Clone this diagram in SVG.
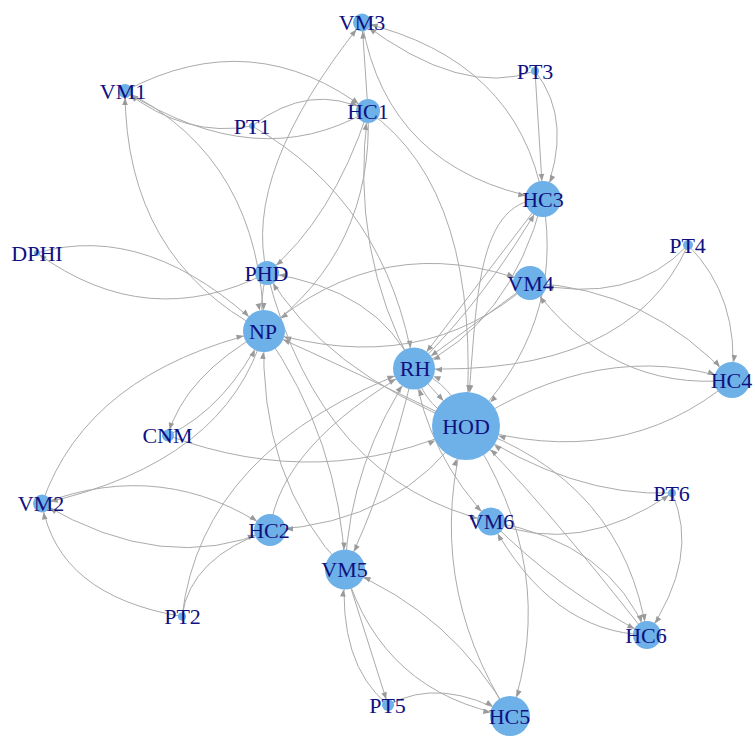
<svg xmlns="http://www.w3.org/2000/svg" width="755" height="736" viewBox="0 0 755 736">
<style>
  .e path { fill: none; stroke: #ababab; stroke-width: 1; }
  .n circle { fill: #6db1e8; }
  .n text { font-family: "Liberation Serif", "Times New Roman", serif; font-size: 22px; fill: #10107f; text-anchor: middle; }
  .ah { fill: #9a9a9a; }
</style>
<defs>
  <!-- arrowheads: tip pulled back from the node centre by the target radius -->
  <marker id="a3" markerUnits="userSpaceOnUse" markerWidth="10" markerHeight="10" refX="3" refY="0" orient="auto" overflow="visible"><path class="ah" d="M0,0 L-7,-2.8 L-7,2.8 Z"/></marker>
  <marker id="a4" markerUnits="userSpaceOnUse" markerWidth="10" markerHeight="10" refX="4" refY="0" orient="auto" overflow="visible"><path class="ah" d="M0,0 L-7,-2.8 L-7,2.8 Z"/></marker>
  <marker id="a6" markerUnits="userSpaceOnUse" markerWidth="10" markerHeight="10" refX="6" refY="0" orient="auto" overflow="visible"><path class="ah" d="M0,0 L-7,-2.8 L-7,2.8 Z"/></marker>
  <marker id="a7" markerUnits="userSpaceOnUse" markerWidth="10" markerHeight="10" refX="7" refY="0" orient="auto" overflow="visible"><path class="ah" d="M0,0 L-7,-2.8 L-7,2.8 Z"/></marker>
  <marker id="a9" markerUnits="userSpaceOnUse" markerWidth="10" markerHeight="10" refX="9" refY="0" orient="auto" overflow="visible"><path class="ah" d="M0,0 L-7,-2.8 L-7,2.8 Z"/></marker>
  <marker id="a12" markerUnits="userSpaceOnUse" markerWidth="10" markerHeight="10" refX="12" refY="0" orient="auto" overflow="visible"><path class="ah" d="M0,0 L-7,-2.8 L-7,2.8 Z"/></marker>
  <marker id="a14" markerUnits="userSpaceOnUse" markerWidth="10" markerHeight="10" refX="14" refY="0" orient="auto" overflow="visible"><path class="ah" d="M0,0 L-7,-2.8 L-7,2.8 Z"/></marker>
  <marker id="a16" markerUnits="userSpaceOnUse" markerWidth="10" markerHeight="10" refX="16" refY="0" orient="auto" overflow="visible"><path class="ah" d="M0,0 L-7,-2.8 L-7,2.8 Z"/></marker>
  <marker id="a17" markerUnits="userSpaceOnUse" markerWidth="10" markerHeight="10" refX="17" refY="0" orient="auto" overflow="visible"><path class="ah" d="M0,0 L-7,-2.8 L-7,2.8 Z"/></marker>
  <marker id="a18" markerUnits="userSpaceOnUse" markerWidth="10" markerHeight="10" refX="18" refY="0" orient="auto" overflow="visible"><path class="ah" d="M0,0 L-7,-2.8 L-7,2.8 Z"/></marker>
  <marker id="a20" markerUnits="userSpaceOnUse" markerWidth="10" markerHeight="10" refX="20" refY="0" orient="auto" overflow="visible"><path class="ah" d="M0,0 L-7,-2.8 L-7,2.8 Z"/></marker>
  <marker id="a21" markerUnits="userSpaceOnUse" markerWidth="10" markerHeight="10" refX="21" refY="0" orient="auto" overflow="visible"><path class="ah" d="M0,0 L-7,-2.8 L-7,2.8 Z"/></marker>
  <marker id="a34" markerUnits="userSpaceOnUse" markerWidth="10" markerHeight="10" refX="34" refY="0" orient="auto" overflow="visible"><path class="ah" d="M0,0 L-7,-2.8 L-7,2.8 Z"/></marker>
</defs>
<rect width="755" height="736" fill="#ffffff"/>

<!-- directed edges, drawn centre to centre underneath the nodes -->
<g id="edges" class="e">
  <path d="M125,91 Q253.5,23 368,111" marker-end="url(#a12)"/>
  <path d="M368,111 Q257.5,175 125,91" marker-end="url(#a7)"/>
  <path d="M252,126 Q185.5,138.5 125,91" marker-end="url(#a7)"/>
  <path d="M252,126 Q310,81.5 368,111" marker-end="url(#a12)"/>
  <path d="M252,126 Q387,202.5 414,368.5" marker-end="url(#a21)"/>
  <path d="M368,111 Q365,66 362,22.5" marker-end="url(#a9)"/>
  <path d="M267,273 Q241.5,172.5 362,22.5" marker-end="url(#a9)"/>
  <path d="M535,71 Q461.5,98 362,22.5" marker-end="url(#a9)"/>
  <path d="M362,22.5 Q387.5,170 543,199" marker-end="url(#a18)"/>
  <path d="M543,199 Q517.5,60 362,22.5" marker-end="url(#a9)"/>
  <path d="M535,71 Q539,135 543,199" marker-end="url(#a18)"/>
  <path d="M535,71 Q575,122 543,199" marker-end="url(#a18)"/>
  <path d="M368,111 Q332.5,218.5 267,273" marker-end="url(#a12)"/>
  <path d="M368,111 Q374,249.5 264,331" marker-end="url(#a21)"/>
  <path d="M368,111 Q483,192 466,426" marker-end="url(#a34)"/>
  <path d="M414,368.5 Q349,251 368,111" marker-end="url(#a12)"/>
  <path d="M37,253 Q149,220.5 264,331" marker-end="url(#a21)"/>
  <path d="M267,273 Q147.5,333.5 37,253" marker-end="url(#a3)"/>
  <path d="M264,331 Q125.5,258.5 125,91" marker-end="url(#a7)"/>
  <path d="M125,91 Q261.5,158.5 264,331" marker-end="url(#a21)"/>
  <path d="M267,273 Q258,302 264,331" marker-end="url(#a21)"/>
  <path d="M264,331 Q383,227 530,283" marker-end="url(#a17)"/>
  <path d="M530,283 Q423,379 264,331" marker-end="url(#a21)"/>
  <path d="M264,331 Q184,376.5 168,435.5" marker-end="url(#a6)"/>
  <path d="M168,435.5 Q228,406.5 264,331" marker-end="url(#a21)"/>
  <path d="M42,503.5 Q87,372.5 264,331" marker-end="url(#a21)"/>
  <path d="M264,331 Q227,462.5 42,503.5" marker-end="url(#a9)"/>
  <path d="M168,435.5 Q323,493 466,426" marker-end="url(#a34)"/>
  <path d="M466,426 Q355,371.5 264,331" marker-end="url(#a21)"/>
  <path d="M466,426 Q323.5,370.5 267,273" marker-end="url(#a12)"/>
  <path d="M414,368.5 Q379.5,289.5 267,273" marker-end="url(#a12)"/>
  <path d="M543,199 Q478.5,283.5 414,368.5" marker-end="url(#a21)"/>
  <path d="M414,368.5 Q488,296 543,199" marker-end="url(#a18)"/>
  <path d="M543,199 Q510,325 414,368.5" marker-end="url(#a21)"/>
  <path d="M530,283 Q472,325.75 414,368.5" marker-end="url(#a21)"/>
  <path d="M688,245 Q629,377.5 414,368.5" marker-end="url(#a21)"/>
  <path d="M543,199 Q565.5,328 466,426" marker-end="url(#a34)"/>
  <path d="M543,199 C470,200 478,320 466,426" marker-end="url(#a34)"/>
  <path d="M688,245 Q631,306 530,283" marker-end="url(#a17)"/>
  <path d="M688,245 Q740,297.5 732,380" marker-end="url(#a18)"/>
  <path d="M530,283 Q649,288.5 732,380" marker-end="url(#a18)"/>
  <path d="M732,380 Q609,392.5 530,283" marker-end="url(#a17)"/>
  <path d="M732,380 Q621,473 466,426" marker-end="url(#a34)"/>
  <path d="M466,426 Q601,337 732,380" marker-end="url(#a18)"/>
  <path d="M672,493 Q700.5,557 647,635" marker-end="url(#a14)"/>
  <path d="M672,493 Q571,497 466,426" marker-end="url(#a34)"/>
  <path d="M491,521.5 Q578.5,557.5 672,493" marker-end="url(#a4)"/>
  <path d="M491,521.5 Q611,542.5 647,635" marker-end="url(#a14)"/>
  <path d="M491,521.5 Q561,592 647,635" marker-end="url(#a14)"/>
  <path d="M647,635 Q551,632.5 491,521.5" marker-end="url(#a14)"/>
  <path d="M466,426 Q623.5,480 647,635" marker-end="url(#a14)"/>
  <path d="M466,426 Q562,569 510,716" marker-end="url(#a20)"/>
  <path d="M510,716 Q422,579 466,426" marker-end="url(#a34)"/>
  <path d="M647,635 Q533.5,490 466,426" marker-end="url(#a34)"/>
  <path d="M414,368.5 Q427.5,455.5 491,521.5" marker-end="url(#a14)"/>
  <path d="M267,273 Q321,483 491,521.5" marker-end="url(#a14)"/>
  <path d="M42,503.5 Q164,457.5 270,530" marker-end="url(#a16)"/>
  <path d="M270,530 Q164,575.5 42,503.5" marker-end="url(#a9)"/>
  <path d="M182,616.5 Q58,595.5 42,503.5" marker-end="url(#a9)"/>
  <path d="M182,616.5 Q190,557 270,530" marker-end="url(#a16)"/>
  <path d="M182,616.5 Q202,447.5 414,368.5" marker-end="url(#a21)"/>
  <path d="M270,530 Q280,445 414,368.5" marker-end="url(#a21)"/>
  <path d="M466,426 Q402,522.5 270,530" marker-end="url(#a16)"/>
  <path d="M345,569.5 Q258,480 264,331" marker-end="url(#a21)"/>
  <path d="M264,331 Q340,440 345,569.5" marker-end="url(#a20)"/>
  <path d="M345,569.5 Q350,460 414,368.5" marker-end="url(#a21)"/>
  <path d="M414,368.5 Q385,490 345,569.5" marker-end="url(#a20)"/>
  <path d="M510,716 Q452.5,613.5 345,569.5" marker-end="url(#a20)"/>
  <path d="M345,569.5 Q382.5,693.5 510,716" marker-end="url(#a20)"/>
  <path d="M388,705 Q337.5,663.5 345,569.5" marker-end="url(#a20)"/>
  <path d="M345,569.5 Q366.5,637 388,705" marker-end="url(#a6)"/>
  <path d="M388,705 Q441,676 510,716" marker-end="url(#a20)"/>
  <path d="M466,426 Q455,385 414,368.5" marker-end="url(#a21)"/>
  <path d="M466,426 Q425,410 414,368.5" marker-end="url(#a21)"/>
  <path d="M414,368.5 Q440,397 466,426" marker-end="url(#a34)"/>
</g>

<!-- nodes -->
<g id="node-VM3" class="n"><circle cx="362" cy="22.5" r="9"/><text x="362" y="30">VM3</text></g>
<g id="node-HC1" class="n"><circle cx="368" cy="111" r="12"/><text x="368" y="118.5">HC1</text></g>
<g id="node-VM1" class="n"><circle cx="125" cy="91" r="7"/><text x="123" y="98.5">VM1</text></g>
<g id="node-PT1" class="n"><circle cx="252" cy="126" r="3"/><text x="252" y="133.5">PT1</text></g>
<g id="node-PT3" class="n"><circle cx="535" cy="71" r="4"/><text x="535" y="78.5">PT3</text></g>
<g id="node-HC3" class="n"><circle cx="543" cy="199" r="18"/><text x="543" y="206.5">HC3</text></g>
<g id="node-DPHI" class="n"><circle cx="37" cy="253" r="3"/><text x="37" y="260.5">DPHI</text></g>
<g id="node-PHD" class="n"><circle cx="267" cy="273" r="12"/><text x="266.5" y="280.5">PHD</text></g>
<g id="node-PT4" class="n"><circle cx="688" cy="245" r="5"/><text x="687.5" y="252.5">PT4</text></g>
<g id="node-VM4" class="n"><circle cx="530" cy="283" r="17"/><text x="530.5" y="290.5">VM4</text></g>
<g id="node-NP" class="n"><circle cx="264" cy="331" r="21"/><text x="263" y="338.5">NP</text></g>
<g id="node-RH" class="n"><circle cx="414" cy="368.5" r="21"/><text x="415" y="376">RH</text></g>
<g id="node-HOD" class="n"><circle cx="466" cy="426" r="34"/><text x="466" y="433.5">HOD</text></g>
<g id="node-HC4" class="n"><circle cx="732" cy="380" r="18"/><text x="731.5" y="387.5">HC4</text></g>
<g id="node-CNM" class="n"><circle cx="168" cy="435.5" r="6"/><text x="167.5" y="443">CNM</text></g>
<g id="node-VM2" class="n"><circle cx="42" cy="503.5" r="9"/><text x="41" y="511">VM2</text></g>
<g id="node-HC2" class="n"><circle cx="270" cy="530" r="16"/><text x="269" y="537.5">HC2</text></g>
<g id="node-PT2" class="n"><circle cx="182" cy="616.5" r="4"/><text x="182.5" y="624">PT2</text></g>
<g id="node-VM5" class="n"><circle cx="345" cy="569.5" r="20"/><text x="344.5" y="577">VM5</text></g>
<g id="node-VM6" class="n"><circle cx="491" cy="521.5" r="14"/><text x="491" y="529">VM6</text></g>
<g id="node-PT6" class="n"><circle cx="672" cy="493" r="4"/><text x="671.5" y="500.5">PT6</text></g>
<g id="node-HC6" class="n"><circle cx="647" cy="635" r="14"/><text x="646" y="642.5">HC6</text></g>
<g id="node-HC5" class="n"><circle cx="510" cy="716" r="20"/><text x="509.5" y="723.5">HC5</text></g>
<g id="node-PT5" class="n"><circle cx="388" cy="705" r="6"/><text x="387.5" y="712.5">PT5</text></g>
</svg>
